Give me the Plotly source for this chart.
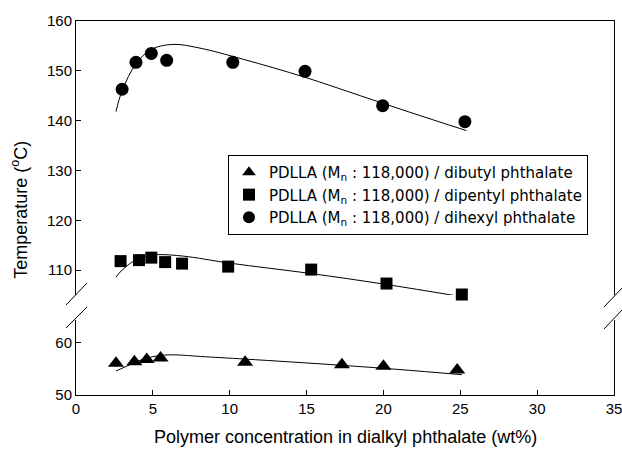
import plotly.graph_objects as go

# ---- data ----
tri_x = [2.6, 3.8, 4.6, 5.5, 11.0, 17.3, 20.0, 24.8]
tri_y = [56.1, 56.4, 56.8, 57.1, 56.3, 55.8, 55.5, 54.8]
sq_x = [2.9, 4.1, 4.9, 5.8, 6.9, 9.9, 15.3, 20.2, 25.1]
sq_y = [111.8, 112.0, 112.5, 111.6, 111.3, 110.7, 110.1, 107.3, 105.1]
ci_x = [3.0, 3.9, 4.9, 5.9, 10.2, 14.9, 19.95, 25.3]
ci_y = [146.3, 151.7, 153.5, 152.1, 151.7, 149.9, 143.0, 139.8]

# fitted curves
tri_fit_x = [2.6, 3.5, 4.5, 5.5, 6.5, 8.1, 11.0, 17.3, 21.0, 25.1]
tri_fit_y = [54.6, 55.8, 57.0, 57.6, 57.7, 57.4, 56.9, 55.7, 54.9, 53.9]
sq_fit_x = [2.6, 3.0, 3.8, 4.6, 5.3, 7.0, 10.0, 15.3, 20.0, 25.2]
sq_fit_y = [108.6, 110.0, 111.9, 112.8, 113.1, 112.8, 111.4, 109.3, 107.2, 104.6]
ci_fit_x = [2.6, 3.0, 3.9, 4.9, 6.3, 8.0, 10.9, 14.9, 18.5, 21.7, 25.4]
ci_fit_y = [141.8, 146.0, 151.4, 154.3, 155.3, 154.6, 152.3, 148.7, 145.0, 141.7, 138.0]

names = [
    "PDLLA (M<sub>n</sub> : 118,000) / dibutyl phthalate",
    "PDLLA (M<sub>n</sub> : 118,000) / dipentyl phthalate",
    "PDLLA (M<sub>n</sub> : 118,000) / dihexyl phthalate",
]
x_ticks = [0, 5, 10, 15, 20, 25, 30, 35]
y_low_ticks = [50, 60]
y_high_ticks = [110, 120, 130, 140, 150, 160]

FONT = "Liberation Sans, Arial, sans-serif"
LEG_FONT = "DejaVu Sans, Liberation Sans, sans-serif"
fig = go.Figure()

line_style = dict(color="black", width=1, shape="spline", smoothing=1.0)
fig.add_trace(go.Scatter(x=tri_fit_x, y=tri_fit_y, mode="lines", line=line_style,
                         showlegend=False, hoverinfo="skip", xaxis="x", yaxis="y"))
fig.add_trace(go.Scatter(x=sq_fit_x, y=sq_fit_y, mode="lines", line=line_style,
                         showlegend=False, hoverinfo="skip", xaxis="x", yaxis="y2"))
fig.add_trace(go.Scatter(x=ci_fit_x, y=ci_fit_y, mode="lines", line=line_style,
                         showlegend=False, hoverinfo="skip", xaxis="x", yaxis="y2"))

fig.add_trace(go.Scatter(x=tri_x, y=tri_y, mode="markers", name=names[0],
                         marker=dict(symbol="triangle-up", size=14, color="black"),
                         cliponaxis=False, xaxis="x", yaxis="y"))
fig.add_trace(go.Scatter(x=sq_x, y=sq_y, mode="markers", name=names[1],
                         marker=dict(symbol="square", size=12, color="black"),
                         cliponaxis=False, xaxis="x", yaxis="y2"))
fig.add_trace(go.Scatter(x=ci_x, y=ci_y, mode="markers", name=names[2],
                         marker=dict(symbol="circle", size=13, color="black"),
                         cliponaxis=False, xaxis="x", yaxis="y2"))

low_dom = [0, 0.2005]
high_dom = [0.2674, 1]

axis_common = dict(showline=True, linecolor="black", linewidth=1, ticks="inside",
                   ticklen=5, tickcolor="black", showgrid=False, zeroline=False,
                   automargin=False, ticklabeloverflow="allow",
                   tickfont=dict(family=FONT, size=15, color="black"))

fig.update_layout(
    width=622, height=452,
    margin=dict(l=76, r=8, t=21, b=57, autoexpand=False),
    paper_bgcolor="white", plot_bgcolor="white",
    font=dict(family=FONT, color="black"),
    xaxis=dict(range=[0, 35], tickvals=x_ticks, anchor="y", domain=[0, 1],
               **axis_common),
    xaxis2=dict(range=[0, 35], anchor="y2", overlaying="x", side="top",
                showline=True, linecolor="black", linewidth=1, showticklabels=False,
                ticks="", showgrid=False, zeroline=False, automargin=False),
    yaxis=dict(range=[50, 64.4], tickvals=y_low_ticks, domain=low_dom, anchor="x",
               mirror=True, **axis_common),
    yaxis2=dict(range=[105, 160], tickvals=y_high_ticks, domain=high_dom, anchor="x",
                mirror=True, **axis_common),
    legend=dict(x=0.2825, y=0.642, xanchor="left", yanchor="top",
                bgcolor="white", bordercolor="black", borderwidth=1,
                font=dict(family=LEG_FONT, size=15, color="black"),
                tracegroupgap=0, itemsizing="constant"),
    showlegend=True,
)

# dummy trace to activate the top axis line
fig.add_trace(go.Scatter(x=[None], y=[None], xaxis="x2", yaxis="y2",
                         showlegend=False, hoverinfo="skip"))

fig.add_annotation(text="Temperature (<sup>o</sup>C)", textangle=-90,
                   xref="paper", yref="paper", x=0, y=0.495, xanchor="center",
                   yanchor="middle", xshift=-56, showarrow=False,
                   font=dict(family=FONT, size=18, color="black"))
fig.add_annotation(text="Polymer concentration in dialkyl phthalate (wt%)",
                   xref="paper", yref="paper", x=0.5, y=-0.112, xanchor="center",
                   yanchor="middle", showarrow=False,
                   font=dict(family=FONT, size=18, color="black"))

# axis break marks (pixel positions converted to paper fractions)
W, H, L, B = 538.0, 374.0, 76.0, 395.0
def px(x):
    return (x - L) / W
def py(y):
    return (B - y) / H
for (x0, y0, x1, y1) in [(66, 305, 87, 283), (66, 328, 87, 307),
                         (604, 307, 623, 287), (604, 329, 623, 309)]:
    fig.add_shape(type="line", xref="paper", yref="paper",
                  x0=px(x0), y0=py(y0), x1=px(x1), y1=py(y1),
                  line=dict(color="black", width=1))

fig.write_html(
    "out.html",
    config={"displayModeBar": False},
    post_script="document.body.style.margin='0';document.body.style.overflow='hidden';",
)
